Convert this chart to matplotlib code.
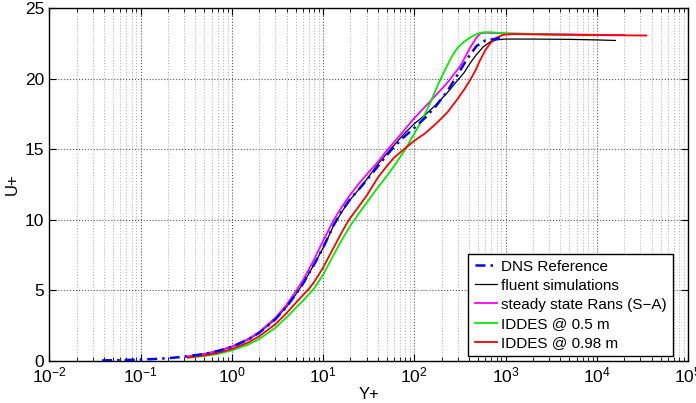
import numpy as np
import matplotlib
matplotlib.use("Agg")
import matplotlib.pyplot as plt

plt.rcParams['font.family'] = ['Liberation Sans', 'DejaVu Sans']
plt.rcParams['mathtext.fontset'] = 'custom'
plt.rcParams['mathtext.rm'] = 'Liberation Sans'

# ---- data ----
dns_y = [0.038, 0.06, 0.1, 0.15, 0.2, 0.3, 0.5, 0.7, 1.0, 1.5, 2.0, 3.0, 4.0, 5.0, 6.0, 8.0,
         10, 13, 16, 20, 25, 30, 40, 55, 75, 100, 130, 170, 230, 300, 380, 480, 600, 750, 870]
dns_u = [0.04, 0.06, 0.1, 0.15, 0.2, 0.3, 0.5, 0.7, 1.0, 1.5, 2.0, 2.95, 3.85, 4.7, 5.45, 6.85,
         8.0, 9.6, 10.6, 11.5, 12.2, 12.8, 13.8, 14.9, 15.8, 16.5, 17.2, 18.0, 19.1, 20.3, 21.4,
         22.3, 22.7, 22.8, 22.85]

flu_y = [0.33, 0.5, 0.7, 1.0, 1.5, 2.0, 3.0, 4.0, 5.0, 6.0, 8.0, 10, 13, 16, 20, 25, 30, 40, 55,
         75, 100, 130, 170, 230, 300, 350, 410, 480, 570, 680, 800, 1000, 2000, 5000, 10000, 16000]
flu_u = [0.3, 0.5, 0.7, 1.0, 1.5, 2.0, 2.95, 3.85, 4.7, 5.45, 6.85, 8.0, 9.55, 10.55, 11.45, 12.2,
         12.85, 13.95, 15.0, 16.0, 16.8, 17.4, 18.1, 19.0, 19.9, 20.4, 21.1, 21.7, 22.25, 22.6,
         22.75, 22.8, 22.8, 22.78, 22.74, 22.7]

sa_y = [0.33, 0.5, 0.7, 1.0, 1.5, 2.0, 3.0, 4.0, 5.0, 6.0, 8.0, 10, 13, 16, 20, 25, 30, 40, 50,
        70, 100, 150, 230, 320, 410, 480, 530, 600, 1000, 3000, 10000, 20000]
sa_u = [0.33, 0.5, 0.72, 1.03, 1.55, 2.05, 3.05, 4.0, 4.9, 5.7, 7.2, 8.5, 9.95, 10.9, 11.8, 12.6,
        13.2, 14.1, 14.9, 16.0, 17.2, 18.4, 19.7, 20.9, 22.2, 22.9, 23.2, 23.25, 23.2, 23.15, 23.1,
        23.08]

g_y = [0.33, 0.5, 0.7, 1.0, 1.5, 2.0, 3.0, 4.0, 5.0, 6.0, 8.0, 10, 13, 16, 20, 25, 30, 40, 50, 60,
       80, 100, 120, 150, 180, 220, 260, 300, 350, 420, 500, 580, 700, 1000, 3000, 10000]
g_u = [0.22, 0.35, 0.5, 0.75, 1.15, 1.55, 2.35, 3.1, 3.75, 4.25, 5.15, 6.1, 7.5, 8.55, 9.6, 10.5,
       11.2, 12.3, 13.1, 13.8, 15.0, 16.1, 17.0, 18.3, 19.5, 20.7, 21.6, 22.2, 22.6, 22.95, 23.2,
       23.28, 23.28, 23.2, 23.12, 23.08]

r_y = [0.33, 0.5, 0.7, 1.0, 1.5, 2.0, 3.0, 4.0, 5.0, 6.0, 7.0, 8.0, 10, 13, 16, 19, 25, 30, 40, 50,
       60, 79, 100, 130, 150, 176, 230, 294, 350, 410, 470, 526, 600, 680, 800, 940, 1200, 3000,
       10000, 35000]
r_u = [0.25, 0.4, 0.57, 0.85, 1.3, 1.75, 2.6, 3.4, 4.1, 4.65, 5.1, 5.6, 6.6, 8.0, 9.1, 9.95, 11.0,
       11.7, 13.0, 13.8, 14.4, 15.05, 15.6, 16.1, 16.45, 16.85, 17.6, 18.5, 19.2, 19.9, 20.6, 21.3,
       22.0, 22.5, 22.9, 23.1, 23.15, 23.12, 23.08, 23.05]

labels = ['DNS Reference', 'fluent simulations', 'steady state Rans (S\u2212A)',
          'IDDES @ 0.5 m', 'IDDES @ 0.98 m']

fig = plt.figure(figsize=(6.96, 4.03), dpi=100)
ax = fig.add_axes([49.3 / 696, 1 - 361 / 403, (688 - 49.3) / 696, (361 - 8) / 403])

ax.plot(flu_y, flu_u, color='black', lw=0.9, label=labels[1], zorder=3)
ax.plot(sa_y, sa_u, color='#ff00ff', lw=1.3, label=labels[2], zorder=3)
ax.plot(g_y, g_u, color='#00ee00', lw=1.3, label=labels[3], zorder=3)
ax.plot(r_y, r_u, color='#ff0000', lw=1.3, label=labels[4], zorder=4)
ax.plot(dns_y, dns_u, color='#0000ff', lw=1.8, linestyle='-.', dashes=(4, 2, 1, 2),
        label=labels[0], zorder=5)

ax.set_xscale('log')
ax.set_xlim(1e-2, 1e5)
ax.set_ylim(0, 25)
ax.set_yticks([0, 5, 10, 15, 20, 25])
ax.set_xticks([1e-2, 1e-1, 1e0, 1e1, 1e2, 1e3, 1e4, 1e5])

ax.grid(True, which='major', linestyle=':', color='0.35', linewidth=0.8)
ax.grid(True, which='minor', axis='x', linestyle=':', color='0.72', linewidth=0.8)
ax.tick_params(which='both', direction='in', top=True, right=True, labelsize=12.5)
ax.tick_params(which='major', length=5, width=0.8)
ax.tick_params(which='minor', length=3, width=0.6)
for s in ax.spines.values():
    s.set_linewidth(1.0)

ax.set_xlabel('Y+', fontsize=12, labelpad=1)
ax.set_ylabel('U+', fontsize=12, labelpad=4)

h, l = ax.get_legend_handles_labels()
order = [4, 0, 1, 2, 3]
leg = ax.legend([h[i] for i in order], [l[i] for i in order], loc='lower right',
                bbox_to_anchor=((673 - 49.3) / 638.7, (361 - 356) / 353),
                borderaxespad=0, fontsize=11, fancybox=False, framealpha=1,
                edgecolor='black', handlelength=1.5, handletextpad=0.25,
                labelspacing=0.33, borderpad=0.4)
leg.get_frame().set_linewidth(1.0)

fig.savefig('out.png', dpi=100)
